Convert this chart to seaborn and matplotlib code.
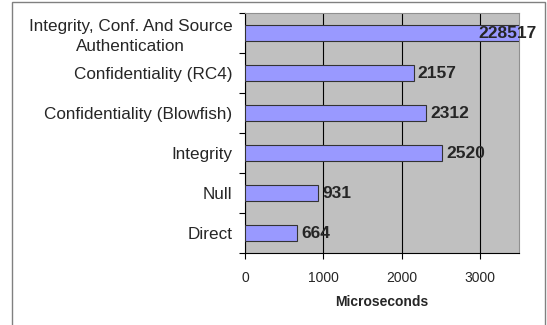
import matplotlib
matplotlib.use("Agg")
import matplotlib.pyplot as plt
import matplotlib.patches as mpatches
import seaborn as sns
import pandas as pd
import numpy as np

categories = [
    "Integrity, Conf. And Source\nAuthentication",
    "Confidentiality (RC4)",
    "Confidentiality (Blowfish)",
    "Integrity",
    "Null",
    "Direct",
]
microseconds = [228517, 2157, 2312, 2520, 931, 664]
x_ticks = [0, 1000, 2000, 3000]
x_max = 3500

sns.set_theme(style="white")
plt.rcParams["font.family"] = ["Liberation Sans", "DejaVu Sans"]

df = pd.DataFrame({"Scenario": categories, "Microseconds": microseconds})

fig = plt.figure(figsize=(5.47, 3.25), dpi=100)
ax = fig.add_axes([245 / 547, 1 - 253 / 325, (519 - 245) / 547, (253 - 13) / 325])

sns.barplot(data=df, y="Scenario", x="Microseconds", orient="h", order=categories,
            color="#9999FF", saturation=1, width=0.4, edgecolor="#333333",
            linewidth=0.8, ax=ax, zorder=3)

ax.set_facecolor("#C0C0C0")
ax.set_xlim(0, x_max)
ax.set_ylim(len(categories) - 0.5, -0.5)
ax.set_xticks(x_ticks)
ax.set_xticklabels([str(t) for t in x_ticks], fontsize=10)
ax.grid(axis="x", color="black", linewidth=0.8, zorder=1)
ax.set_axisbelow(True)

# value labels at bar ends; bars longer than the axis get their label pulled inside
for i, v in enumerate(microseconds):
    if v > x_max:
        ax.annotate(str(v), xy=(x_max, i), xytext=(18, 0), textcoords="offset pixels",
                    ha="right", va="center", fontsize=12.5, fontweight="bold",
                    annotation_clip=False, zorder=5)
    else:
        ax.annotate(str(v), xy=(v, i), xytext=(4, 0), textcoords="offset pixels",
                    ha="left", va="center", fontsize=12.5, fontweight="bold", zorder=5)

ax.set_ylabel("")
ax.set_xlabel("Microseconds", fontsize=10, fontweight="bold", labelpad=7)

ax.tick_params(axis="y", which="major", length=0, pad=9, labelsize=12.3)
for lbl in ax.get_yticklabels():
    lbl.set_multialignment("center")
    lbl.set_linespacing(1.35)
ax.set_yticks(np.arange(-0.5, len(categories), 1.0), minor=True)
ax.tick_params(axis="y", which="minor", left=True, length=4, width=0.8, color="black")
ax.tick_params(axis="x", which="major", bottom=True, length=4, width=0.8, color="black", pad=9)

for side in ("left", "bottom"):
    ax.spines[side].set_color("black")
    ax.spines[side].set_linewidth(0.8)
for side in ("top", "right"):
    ax.spines[side].set_color("#909090")
    ax.spines[side].set_linewidth(0.8)

# chart area border
fig.patches.append(mpatches.Rectangle((12 / 547, -0.1), (545 - 12) / 547, 1.1 - 2 / 325,
                                      transform=fig.transFigure, fill=False,
                                      edgecolor="#808080", linewidth=1.0))

fig.savefig("out.png", dpi=100)
